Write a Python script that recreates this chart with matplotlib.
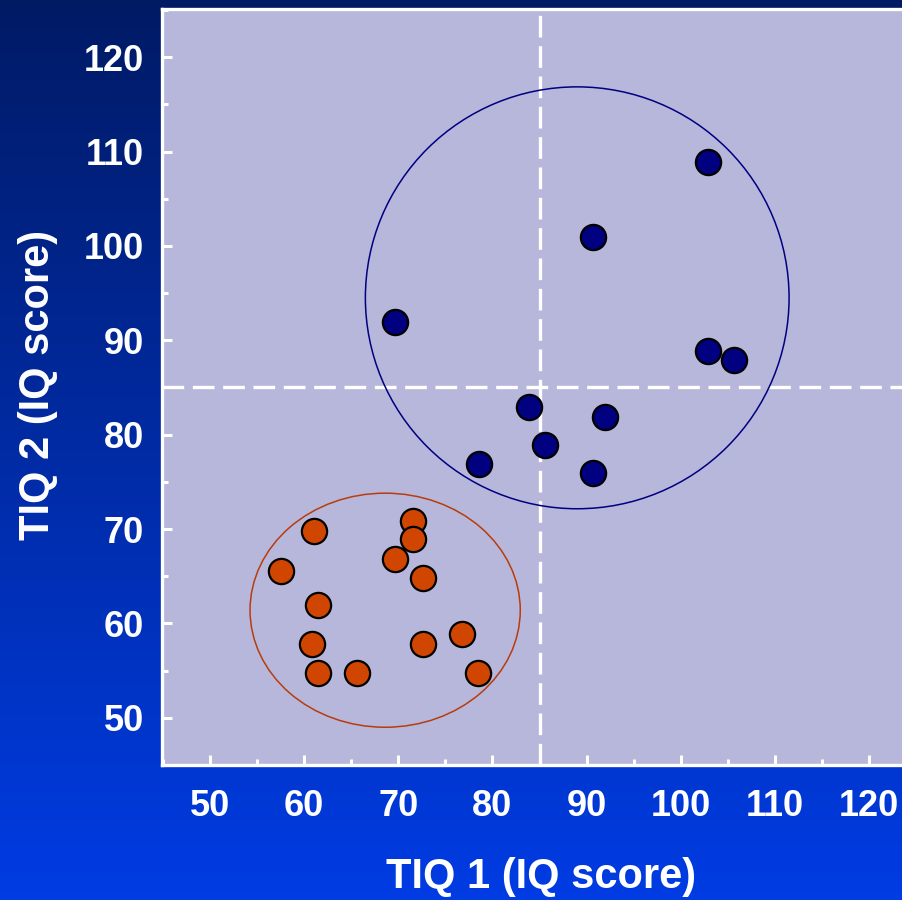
import numpy as np
import matplotlib

matplotlib.use("Agg")
import matplotlib.pyplot as plt
from matplotlib.patches import Ellipse
from matplotlib.ticker import MultipleLocator

# --- data ------------------------------------------------------------------
blue_x = [102.9, 90.7, 69.6, 102.9, 105.7, 83.9, 92.0, 85.6, 78.6, 90.7]
blue_y = [108.9, 100.9, 91.9, 88.9, 87.9, 82.9, 81.9, 78.9, 76.9, 75.9]

orange_x = [61.0, 57.5, 71.6, 71.6, 69.6, 72.6, 61.5, 60.8, 72.6, 76.8, 61.5, 65.6, 78.5]
orange_y = [69.8, 65.6, 70.9, 68.9, 66.8, 64.8, 61.9, 57.8, 57.8, 58.9, 54.8, 54.8, 54.8]

# cluster outlines: centre x, centre y, width, height (data units)
blue_ring = (89.0, 94.5, 45.0, 44.7)
orange_ring = (68.6, 61.4, 28.7, 24.8)

cutoff = 85  # dashed split lines
major_ticks = [50, 60, 70, 80, 90, 100, 110, 120]

NAVY = "#000080"
RUST = "#d04500"
LAVENDER = "#b7b7db"

plt.rcParams["font.family"] = ["Liberation Sans", "DejaVu Sans"]
plt.rcParams["font.weight"] = "bold"

fig = plt.figure(figsize=(9.03, 9.00), dpi=100)

# gradient backdrop, dark navy on top to bright blue at the bottom
bg = fig.add_axes([0, 0, 1, 1], zorder=-10)
top = np.array([0, 26, 100]) / 255.0
bot = np.array([0, 60, 228]) / 255.0
t = np.linspace(0, 1, 256)[:, None]
grad = (top[None, :] * (1 - t) + bot[None, :] * t)[:, None, :]
bg.imshow(grad, aspect="auto", extent=[0, 1, 0, 1], origin="upper")
bg.axis("off")

ax = fig.add_axes([162 / 903, 135 / 900, 741 / 903, 756 / 900])
ax.set_facecolor(LAVENDER)
ax.set_xlim(44.9, 123.6)
ax.set_ylim(45.0, 125.1)

ax.axvline(cutoff, color="white", lw=2.4, ls=(0, (6.5, 2.6)), zorder=2)
ax.axhline(cutoff, color="white", lw=2.4, ls=(0, (6.5, 2.6)), zorder=2)

for (cx, cy, w, h), col in ((blue_ring, NAVY), (orange_ring, "#b83c0c")):
    ax.add_patch(Ellipse((cx, cy), w, h, fill=False, edgecolor=col, lw=1.1, zorder=3))

ax.scatter(blue_x, blue_y, s=330, c=NAVY, edgecolors="black", linewidths=1.6, zorder=4)
ax.scatter(orange_x, orange_y, s=330, c=RUST, edgecolors="black", linewidths=1.6, zorder=4)

ax.set_xticks(major_ticks)
ax.set_yticks(major_ticks)
ax.xaxis.set_minor_locator(MultipleLocator(5))
ax.yaxis.set_minor_locator(MultipleLocator(5))
ax.tick_params(which="both", direction="in", colors="white", width=2.2,
               labelsize=26, top=False, right=False)
ax.tick_params(which="major", length=7.5)
ax.tick_params(which="minor", length=4.5)
ax.tick_params(axis="x", which="major", pad=17)
ax.tick_params(axis="y", which="major", pad=13)

for side in ("left", "bottom", "top"):
    ax.spines[side].set_color("white")
    ax.spines[side].set_linewidth(2.4)
ax.spines["right"].set_visible(False)

ax.set_xlabel("TIQ 1 (IQ score)", color="white", fontsize=30, fontweight="bold")
ax.set_ylabel("TIQ 2 (IQ score)", color="white", fontsize=30, fontweight="bold")
ax.xaxis.set_label_coords(0.511, -0.122)
ax.yaxis.set_label_coords(-0.141, 0.503)

fig.savefig("out.png", dpi=100)
